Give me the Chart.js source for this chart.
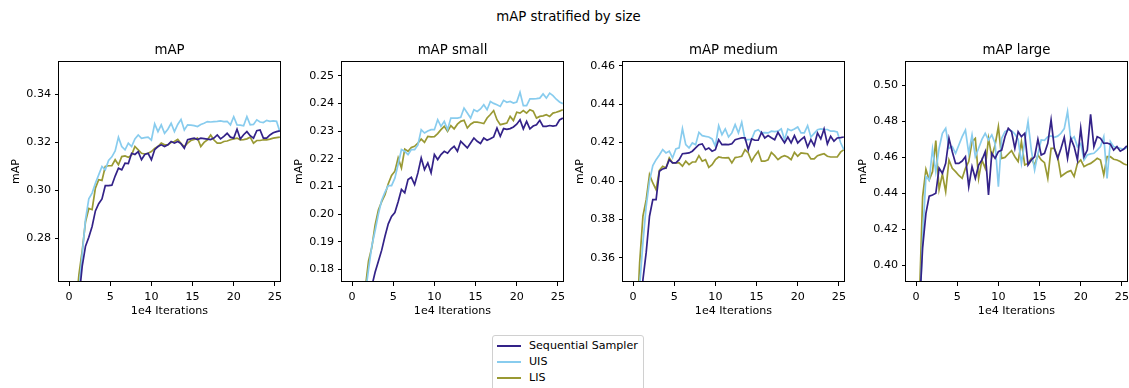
<!DOCTYPE html>
<html>
<head>
<meta charset="utf-8">
<script src="https://cdn.jsdelivr.net/npm/chart.js@4.4.1/dist/chart.umd.min.js"></script>
<style>
  html, body { margin: 0; padding: 0; background: #fff; }
  body { width: 1129px; height: 388px; overflow: hidden; position: relative; font-family: "DejaVu Sans", sans-serif; }
  #suptitle { position: absolute; top: 9px; left: 0; width: 1137px; text-align: center; font-size: 13.3px; line-height: 16px; color: #000; }
  .subtitle { position: absolute; top: 42px; width: 221px; text-align: center; font-size: 13.3px; line-height: 16px; color: #000; }
  canvas { position: absolute; top: 40px; }
  #legend { position: absolute; left: 492px; top: 335px; width: 150px; height: 70px; border: 1px solid #d0d0d0; border-radius: 3px; background: #fff; font-size: 11.1px; color: #000; }
  #legend .row { position: absolute; left: 0; height: 16px; line-height: 16px; white-space: nowrap; }
  #legend .swatch { position: absolute; left: 4px; top: 7px; width: 24px; height: 0; border-top: 2px solid; }
  #legend .label { position: absolute; left: 36px; top: 0; }
</style>
</head>
<body>
<div id="suptitle">mAP stratified by size</div>
<canvas id="c0" width="288" height="282"></canvas>
<canvas id="c1" width="288" height="282"></canvas>
<canvas id="c2" width="288" height="282"></canvas>
<canvas id="c3" width="288" height="282"></canvas>
<div id="legend"></div>
<script>
// ====== Data ======
const seriesNames = ['Sequential Sampler', 'UIS', 'LIS'];
const seriesColors = ['#332288', '#88CCEE', '#999933'];

// iterations (x 1e4)
const iters = [0.4, 0.8, 1.2, 1.6, 2.0, 2.4, 2.8, 3.2, 3.6, 4.0, 4.4, 4.8, 5.2, 5.6, 6.0, 6.4,
    6.8, 7.2, 7.6, 8.0, 8.4, 8.8, 9.2, 9.6, 10.0, 10.4, 10.8, 11.2, 11.6, 12.0, 12.4, 12.8,
    13.2, 13.6, 14.0, 14.4, 14.8, 15.2, 15.6, 16.0, 16.4, 16.8, 17.2, 17.6, 18.0, 18.4, 18.8, 19.2,
    19.6, 20.0, 20.4, 20.8, 21.2, 21.6, 22.0, 22.4, 22.8, 23.2, 23.6, 24.0, 24.4, 24.8, 25.2, 25.6];
const xTicks = [0, 5, 10, 15, 20, 25];

// mAP
const mapSeq = [0.215, 0.235, 0.255, 0.2685, 0.2768, 0.2805, 0.2850, 0.2915, 0.2945, 0.2965, 0.3020, 0.3020, 0.3022, 0.3060, 0.3093, 0.3086,
    0.3114, 0.3112, 0.3155, 0.3150, 0.3162, 0.3128, 0.3150, 0.3155, 0.3128, 0.3170, 0.3183, 0.3190, 0.3183, 0.3190, 0.3204, 0.3197,
    0.3204, 0.3195, 0.3176, 0.3211, 0.3215, 0.3218, 0.3212, 0.3218, 0.3216, 0.3214, 0.3212, 0.3218, 0.3231, 0.3215, 0.3225, 0.3238,
    0.3222, 0.3218, 0.3255, 0.3214, 0.3232, 0.3245, 0.3228, 0.3218, 0.3249, 0.3252, 0.3218, 0.3218, 0.3231, 0.3240, 0.3245, 0.3248];
const mapUIS = [0.220, 0.240, 0.258, 0.2735, 0.2880, 0.2965, 0.2989, 0.3030, 0.3065, 0.3100, 0.3086, 0.3125, 0.3140, 0.3165, 0.3222, 0.3183,
    0.3169, 0.3197, 0.3183, 0.3215, 0.3231, 0.3217, 0.3220, 0.3222, 0.3210, 0.3277, 0.3245, 0.3273, 0.3238, 0.3255, 0.3280, 0.3245,
    0.3275, 0.3296, 0.3252, 0.3273, 0.3272, 0.3270, 0.3266, 0.3275, 0.3280, 0.3287, 0.3285, 0.3287, 0.3288, 0.3290, 0.3287, 0.3288,
    0.3273, 0.3307, 0.3273, 0.3272, 0.3269, 0.3307, 0.3273, 0.3275, 0.3294, 0.3285, 0.3283, 0.3292, 0.3288, 0.3290, 0.3288, 0.3245];
const mapLIS = [0.225, 0.250, 0.265, 0.2750, 0.2870, 0.2925, 0.2920, 0.3010, 0.3045, 0.3042, 0.3100, 0.3103, 0.3103, 0.3128, 0.3107, 0.3141,
    0.3144, 0.3138, 0.3148, 0.3183, 0.3169, 0.3155, 0.3152, 0.3155, 0.3162, 0.3175, 0.3183, 0.3197, 0.3190, 0.3190, 0.3200, 0.3204,
    0.3213, 0.3195, 0.3183, 0.3197, 0.3208, 0.3212, 0.3218, 0.3183, 0.3200, 0.3211, 0.3231, 0.3210, 0.3197, 0.3197, 0.3204, 0.3206,
    0.3211, 0.3215, 0.3218, 0.3211, 0.3212, 0.3215, 0.3222, 0.3197, 0.3208, 0.3208, 0.3211, 0.3211, 0.3214, 0.3218, 0.3220, 0.3222];

// mAP small
const smallSeq = [0.120, 0.130, 0.142, 0.152, 0.163, 0.174, 0.179, 0.183, 0.187, 0.192, 0.1965, 0.1992, 0.2006, 0.2045, 0.2089, 0.2077,
    0.2125, 0.2133, 0.2107, 0.2149, 0.2203, 0.2161, 0.2185, 0.2149, 0.2215, 0.2197, 0.2215, 0.2227, 0.2220, 0.2235, 0.2245, 0.2227,
    0.2263, 0.2251, 0.2239, 0.2257, 0.2275, 0.2263, 0.2255, 0.2275, 0.2267, 0.2272, 0.2279, 0.2311, 0.2281, 0.2309, 0.2306, 0.2309,
    0.2315, 0.2325, 0.2341, 0.2308, 0.2335, 0.2308, 0.2318, 0.2323, 0.2339, 0.2317, 0.2317, 0.2320, 0.2318, 0.2320, 0.2340, 0.2347];
const smallUIS = [0.130, 0.145, 0.158, 0.171, 0.1800, 0.1885, 0.1940, 0.2000, 0.2050, 0.2080, 0.2103, 0.2103, 0.2130, 0.2180, 0.2233, 0.2227,
    0.2215, 0.2233, 0.2233, 0.2250, 0.2305, 0.2293, 0.2300, 0.2305, 0.2305, 0.2341, 0.2317, 0.2335, 0.2305, 0.2347, 0.2347, 0.2347,
    0.2350, 0.2383, 0.2365, 0.2347, 0.2377, 0.2371, 0.2380, 0.2395, 0.2377, 0.2407, 0.2400, 0.2395, 0.2389, 0.2411, 0.2404, 0.2407,
    0.2401, 0.2405, 0.2440, 0.2392, 0.2392, 0.2416, 0.2416, 0.2417, 0.2419, 0.2434, 0.2419, 0.2437, 0.2428, 0.2415, 0.2405, 0.2399];
const smallLIS = [0.135, 0.150, 0.162, 0.173, 0.1830, 0.1880, 0.1960, 0.2015, 0.2045, 0.2070, 0.2110, 0.2140, 0.2155, 0.2203, 0.2167, 0.2235,
    0.2227, 0.2241, 0.2245, 0.2257, 0.2271, 0.2259, 0.2281, 0.2279, 0.2280, 0.2291, 0.2305, 0.2317, 0.2299, 0.2320, 0.2308, 0.2325,
    0.2335, 0.2339, 0.2311, 0.2325, 0.2332, 0.2332, 0.2330, 0.2327, 0.2347, 0.2360, 0.2374, 0.2341, 0.2323, 0.2326, 0.2329, 0.2353,
    0.2338, 0.2368, 0.2365, 0.2374, 0.2365, 0.2377, 0.2372, 0.2347, 0.2353, 0.2355, 0.2359, 0.2353, 0.2365, 0.2368, 0.2372, 0.2377];

// mAP medium
const medSeq = [0.290, 0.320, 0.3487, 0.3630, 0.3817, 0.3903, 0.3903, 0.4051, 0.4063, 0.4068, 0.4111, 0.4094, 0.4094, 0.4111, 0.4142, 0.4144,
    0.4146, 0.4155, 0.4172, 0.4189, 0.4193, 0.4163, 0.4172, 0.4155, 0.4163, 0.4215, 0.4189, 0.4190, 0.4189, 0.4194, 0.4215, 0.4220,
    0.4224, 0.4224, 0.4163, 0.4219, 0.4212, 0.4212, 0.4253, 0.4224, 0.4236, 0.4225, 0.4215, 0.4253, 0.4225, 0.4198, 0.4229, 0.4198,
    0.4236, 0.4198, 0.4215, 0.4229, 0.4177, 0.4215, 0.4184, 0.4250, 0.4219, 0.4271, 0.4193, 0.4233, 0.4207, 0.4224, 0.4226, 0.4229];
const medUIS = [0.310, 0.345, 0.3680, 0.3870, 0.4000, 0.4080, 0.4111, 0.4135, 0.4163, 0.4146, 0.4155, 0.4120, 0.4167, 0.4172, 0.4272, 0.4189,
    0.4172, 0.4198, 0.4189, 0.4253, 0.4236, 0.4232, 0.4229, 0.4219, 0.4181, 0.4288, 0.4241, 0.4271, 0.4229, 0.4250, 0.4293, 0.4250,
    0.4305, 0.4215, 0.4215, 0.4217, 0.4259, 0.4267, 0.4250, 0.4252, 0.4250, 0.4259, 0.4257, 0.4259, 0.4271, 0.4215, 0.4271, 0.4262,
    0.4270, 0.4281, 0.4250, 0.4250, 0.4288, 0.4229, 0.4248, 0.4267, 0.4271, 0.4269, 0.4268, 0.4259, 0.4259, 0.4255, 0.4200, 0.4163];
const medLIS = [0.320, 0.3574, 0.3817, 0.3903, 0.4033, 0.3990, 0.3955, 0.4055, 0.4077, 0.4068, 0.4120, 0.4094, 0.4094, 0.4094, 0.4077, 0.4103,
    0.4085, 0.4099, 0.4099, 0.4132, 0.4103, 0.4111, 0.4071, 0.4085, 0.4111, 0.4125, 0.4122, 0.4120, 0.4122, 0.4094, 0.4122, 0.4125,
    0.4129, 0.4163, 0.4146, 0.4103, 0.4132, 0.4155, 0.4103, 0.4103, 0.4110, 0.4149, 0.4132, 0.4111, 0.4125, 0.4132, 0.4125, 0.4111,
    0.4149, 0.4129, 0.4146, 0.4144, 0.4142, 0.4115, 0.4115, 0.4132, 0.4137, 0.4142, 0.4129, 0.4125, 0.4125, 0.4125, 0.4150, 0.4163];

// mAP large
const largeSeq = [0.375, 0.410, 0.429, 0.4385, 0.4392, 0.4401, 0.4540, 0.4512, 0.4567, 0.4706, 0.4632, 0.4567, 0.4567, 0.4580, 0.4604, 0.4438,
    0.4549, 0.4484, 0.4558, 0.4586, 0.4632, 0.4392, 0.4623, 0.4595, 0.4632, 0.4641, 0.4715, 0.4762, 0.4743, 0.4650, 0.4743, 0.4715,
    0.4734, 0.4558, 0.4586, 0.4604, 0.4700, 0.4614, 0.4623, 0.4678, 0.4808, 0.4650, 0.4595, 0.4650, 0.4712, 0.4595, 0.4706, 0.4660,
    0.4586, 0.4762, 0.4604, 0.4641, 0.4839, 0.4660, 0.4715, 0.4706, 0.4678, 0.4680, 0.4673, 0.4641, 0.4660, 0.4635, 0.4645, 0.4664];
const largeUIS = [0.370, 0.415, 0.4494, 0.4475, 0.4647, 0.4521, 0.4651, 0.4734, 0.4762, 0.4651, 0.4660, 0.4623, 0.4669, 0.4715, 0.4752, 0.4623,
    0.4725, 0.4604, 0.4651, 0.4700, 0.4734, 0.4697, 0.4725, 0.4678, 0.4438, 0.4706, 0.4743, 0.4752, 0.4748, 0.4730, 0.4700, 0.4567,
    0.4688, 0.4799, 0.4641, 0.4530, 0.4620, 0.4697, 0.4695, 0.4715, 0.4719, 0.4712, 0.4718, 0.4734, 0.4760, 0.4854, 0.4697, 0.4715,
    0.4660, 0.4678, 0.4586, 0.4614, 0.4620, 0.4623, 0.4641, 0.4660, 0.4715, 0.4484, 0.4688, 0.4660, 0.4655, 0.4651, 0.4645, 0.4655];
const largeLIS = [0.380, 0.4383, 0.4534, 0.4475, 0.4521, 0.4693, 0.4423, 0.4508, 0.4410, 0.4586, 0.4540, 0.4521, 0.4500, 0.4484, 0.4540, 0.4577,
    0.4688, 0.4706, 0.4484, 0.4586, 0.4540, 0.4706, 0.4604, 0.4669, 0.4771, 0.4595, 0.4600, 0.4619, 0.4638, 0.4604, 0.4577, 0.4688,
    0.4558, 0.4567, 0.4595, 0.4558, 0.4614, 0.4586, 0.4571, 0.4484, 0.4650, 0.4650, 0.4604, 0.4494, 0.4508, 0.4520, 0.4527, 0.4494,
    0.4567, 0.4586, 0.4549, 0.4560, 0.4567, 0.4580, 0.4595, 0.4586, 0.4503, 0.4604, 0.4604, 0.4590, 0.4586, 0.4577, 0.4565, 0.4558];

// y tick labels per panel
const mapTicks = [0.28, 0.30, 0.32, 0.34];
const smallTicks = [0.18, 0.19, 0.20, 0.21, 0.22, 0.23, 0.24, 0.25];
const medTicks = [0.36, 0.38, 0.40, 0.42, 0.44, 0.46];
const largeTicks = [0.40, 0.42, 0.44, 0.46, 0.48, 0.50];

const panels = [
    { title: 'mAP', series: [mapSeq, mapUIS, mapLIS], ticks: mapTicks, min: 0.2619, max: 0.3539, left: 59 },
    { title: 'mAP small', series: [smallSeq, smallUIS, smallLIS], ticks: smallTicks, min: 0.1755, max: 0.2553, left: 342 },
    { title: 'mAP medium', series: [medSeq, medUIS, medLIS], ticks: medTicks, min: 0.3475, max: 0.4624, left: 623 },
    { title: 'mAP large', series: [largeSeq, largeUIS, largeLIS], ticks: largeTicks, min: 0.3909, max: 0.5135, left: 906 }
];

// ====== Helpers ======
const FONT = '"DejaVu Sans", sans-serif';
const Y_AXIS_W = 59;
const X_AXIS_H = 40;

// full box around the plot area, like matplotlib spines
const framePlugin = {
    id: 'frame',
    afterDatasetsDraw(chart) {
        const a = chart.chartArea;
        const ctx = chart.ctx;
        ctx.save();
        ctx.strokeStyle = '#000';
        ctx.lineWidth = 1;
        ctx.strokeRect(Math.round(a.left) - 0.5, Math.round(a.top) + 0.5,
            Math.round(a.right - a.left) + 1, Math.round(a.bottom - a.top) - 1);
        ctx.restore();
    }
};

function makePanel(id, p) {
    const canvas = document.getElementById(id);
    canvas.style.left = (p.left - Y_AXIS_W) + 'px';

    // subplot title, centred over the plot area
    const t = document.createElement('div');
    t.className = 'subtitle';
    t.style.left = p.left + 'px';
    t.textContent = p.title;
    document.body.appendChild(t);

    new Chart(canvas.getContext('2d'), {
        type: 'line',
        data: {
            datasets: p.series.map((vals, i) => ({
                label: seriesNames[i],
                data: iters.map((x, j) => ({ x: x, y: vals[j] })),
                borderColor: seriesColors[i],
                backgroundColor: seriesColors[i],
                borderWidth: 1.7,
                pointRadius: 0,
                tension: 0,
                fill: false
            }))
        },
        options: {
            responsive: false,
            animation: false,
            devicePixelRatio: 1,
            layout: { padding: { left: 0, right: 8, top: 21, bottom: 0 } },
            plugins: {
                legend: { display: false },
                tooltip: { enabled: false },
                title: { display: false }
            },
            scales: {
                x: {
                    type: 'linear',
                    min: -1.22,
                    max: 25.62,
                    afterBuildTicks: s => { s.ticks = xTicks.map(v => ({ value: v })); },
                    afterFit: s => { s.height = X_AXIS_H; s.paddingLeft = 0; s.paddingRight = 0; },
                    ticks: { color: '#000', font: { family: FONT, size: 11.1 }, padding: 4, maxRotation: 0,
                        callback: v => String(v) },
                    grid: { drawOnChartArea: false, drawTicks: true, tickLength: 4, tickColor: '#000', tickWidth: 1 },
                    border: { display: false },
                    title: { display: true, text: '1e4 Iterations', color: '#000',
                        font: { family: FONT, size: 11.1 }, padding: { top: 0, bottom: 4.4 } }
                },
                y: {
                    type: 'linear',
                    min: p.min,
                    max: p.max,
                    afterBuildTicks: s => { s.ticks = p.ticks.map(v => ({ value: v })); },
                    afterFit: s => { s.width = Y_AXIS_W; s.paddingTop = 0; s.paddingBottom = 0; },
                    ticks: { color: '#000', font: { family: FONT, size: 11.1 }, padding: 4,
                        callback: v => v.toFixed(2) },
                    grid: { drawOnChartArea: false, drawTicks: true, tickLength: 4, tickColor: '#000', tickWidth: 1 },
                    border: { display: false },
                    title: { display: true, text: 'mAP', color: '#000',
                        font: { family: FONT, size: 11.1 }, padding: { top: 9.4, bottom: 0 } }
                }
            }
        },
        plugins: [framePlugin]
    });
}

panels.forEach((p, i) => makePanel('c' + i, p));

// ====== Figure legend ======
const legend = document.getElementById('legend');
seriesNames.forEach((name, i) => {
    const row = document.createElement('div');
    row.className = 'row';
    row.style.top = (2 + i * 15.8) + 'px';
    row.style.width = '150px';
    row.innerHTML = '<span class="swatch" style="border-color:' + seriesColors[i] + '"></span>' +
        '<span class="label">' + name + '</span>';
    legend.appendChild(row);
});
</script>
</body>
</html>
